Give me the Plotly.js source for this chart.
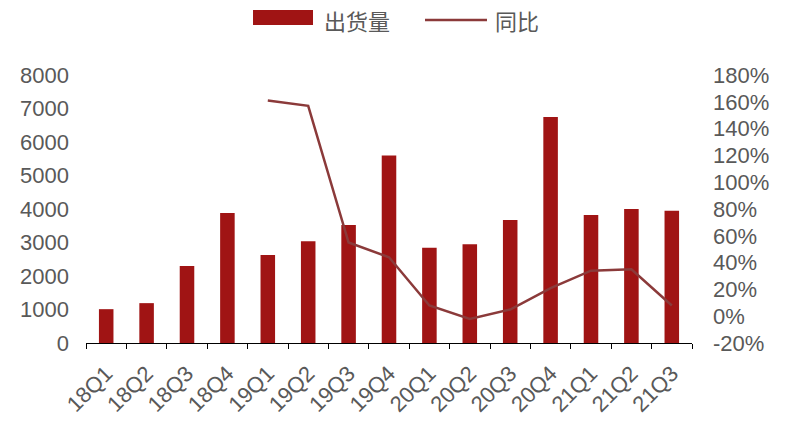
<!DOCTYPE html>
<html><head><meta charset="utf-8">
<script src="https://cdn.plot.ly/plotly-3.0.1.min.js"></script>
<style>body{margin:0;background:#fff}#c{width:800px;height:422px}</style>
</head><body><div id="c"></div>
<script>
const quarters = ["18Q1","18Q2","18Q3","18Q4","19Q1","19Q2","19Q3","19Q4","20Q1","20Q2","20Q3","20Q4","21Q1","21Q2","21Q3"];
const shipments = [1010,1190,2300,3880,2630,3040,3520,5600,2840,2950,3670,6750,3820,4000,3950];
const yoy = [null,null,null,null,1.61,1.57,0.55,0.44,0.08,-0.02,0.05,0.21,0.34,0.35,0.08];
const leftTicks = [0,1000,2000,3000,4000,5000,6000,7000,8000];
const rightTicks = [-0.2,0,0.2,0.4,0.6,0.8,1.0,1.2,1.4,1.6,1.8];
const rightTickText = ["-20%","0%","20%","40%","60%","80%","100%","120%","140%","160%","180%"];
const seriesNames = ["出货量","同比"];

const barColor = "#A01414", lineColor = "#8B3A3A", textColor = "#595959";
const fam = "Liberation Sans, Arial, sans-serif";
const data = [
  {type:"bar", name:seriesNames[0], x:quarters, y:shipments, marker:{color:barColor}, width:0.36},
  {type:"scatter", mode:"lines", name:seriesNames[1], x:quarters, y:yoy, yaxis:"y2",
   line:{color:lineColor, width:2.5}, connectgaps:false}
];
const layout = {
  width:800, height:422,
  margin:{l:86, r:108, t:75, b:79},
  paper_bgcolor:"#fff", plot_bgcolor:"#fff",
  font:{family:fam, color:textColor, size:18},
  showlegend:false,
  xaxis:{type:"category", showline:true, linecolor:"#000", linewidth:1,
         ticks:"outside", tickson:"boundaries", ticklen:5, tickcolor:"#000",
         tickangle:-45, tickfont:{family:fam, color:textColor, size:22}, ticklabelstandoff:8, showgrid:false},
  yaxis:{range:[0,8000], tickvals:leftTicks, showgrid:false, zeroline:false, showline:false,
         tickfont:{family:fam, color:textColor, size:22}, ticklabelstandoff:16},
  yaxis2:{range:[-0.2,1.8], overlaying:"y", side:"right", tickvals:rightTicks, ticktext:rightTickText,
          showgrid:false, zeroline:false, showline:false,
          tickfont:{family:fam, color:textColor, size:22}, ticklabelstandoff:20},
  shapes:[
    {type:"rect", xref:"paper", yref:"paper", x0:0.2756, x1:0.3746, y0:1.1866, y1:1.2425,
     fillcolor:barColor, line:{width:0}},
    {type:"line", xref:"paper", yref:"paper", x0:0.5594, x1:0.6617, y0:1.2052, y1:1.2052,
     line:{color:lineColor, width:2.5}}
  ],
  annotations:[
    {xref:"paper", yref:"paper", x:0.3894, y:1.2052, xanchor:"left", yanchor:"middle", showarrow:false,
     text:seriesNames[0], font:{family:"Noto Sans CJK SC", size:22, color:textColor}},
    {xref:"paper", yref:"paper", x:0.6716, y:1.2052, xanchor:"left", yanchor:"middle", showarrow:false,
     text:seriesNames[1], font:{family:"Noto Sans CJK SC", size:22, color:textColor}}
  ]
};
Plotly.newPlot("c", data, layout, {staticPlot:true});
</script></body></html>
